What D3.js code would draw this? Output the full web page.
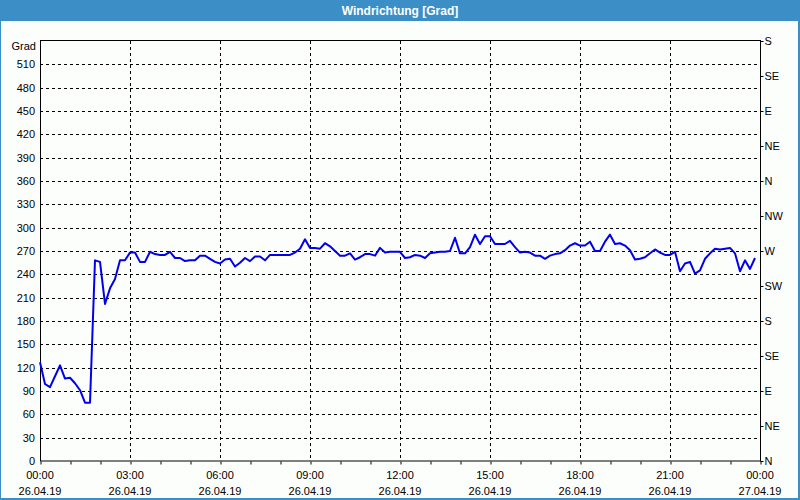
<!DOCTYPE html>
<html><head><meta charset="utf-8">
<script src="https://cdn.jsdelivr.net/npm/d3@7"></script>
<style>
html,body{margin:0;padding:0;background:#fff;}
svg text{font-family:"Liberation Sans",Arial,sans-serif;}
</style></head>
<body>
<svg id="c" width="800" height="500"></svg>
<script>
// Wind direction in degrees, every 10 minutes from 26.04.19 00:00
const values = [127,99,95,109,123,106,107,100,91,75,
75,258,256,202,222,234,258,258,268,268,
256,256,269,266,265,265,269,261,261,257,
258,258,264,264,260,256,254,259,260,250,
255,261,257,263,263,258,265,265,265,265,
265,268,273,285,274,274,273,280,276,270,
264,264,267,259,262,266,266,264,274,268,
269,269,269,261,262,265,264,261,267,268,
269,269,270,287,267,267,275,291,279,289,
289,279,279,279,283,275,268,269,268,264,
264,260,264,266,267,271,277,280,277,277,
282,270,270,282,291,279,280,277,271,259,
260,262,267,272,268,265,265,269,244,254,
256,241,245,260,267,273,272,273,274,267,
244,258,247,261];
const yTicks = [0,30,60,90,120,150,180,210,240,270,300,330,360,390,420,450,480,510];
const compassTicks = [0,45,90,135,180,225,270,315,360,405,450,495,540];
const compassLabels = ["N","NE","E","SE","S","SW","W","NW","N","NE","E","SE","S"];
const timeLabels = ["00:00","03:00","06:00","09:00","12:00","15:00","18:00","21:00","00:00"];
const dateLabels = ["26.04.19","26.04.19","26.04.19","26.04.19","26.04.19","26.04.19","26.04.19","26.04.19","27.04.19"];
const title = "Windrichtung [Grad]";
const unit = "Grad";

const svg = d3.select("#c");
const W = 800, H = 500;
const L = 40, R = 760, T = 41, B = 461;

svg.append("rect").attr("x",0).attr("y",0).attr("width",W).attr("height",H).attr("fill","#3c8fc6");
svg.append("rect").attr("x",1).attr("y",21).attr("width",W-3).attr("height",H-23).attr("fill","#fcfefc");
svg.append("text").attr("x",W/2).attr("y",14.5).attr("text-anchor","middle")
  .attr("fill","#fff").attr("font-weight","bold").attr("font-size","12px").text(title);

const x = d3.scaleLinear().domain([0,24]).range([L,R]);
const y = d3.scaleLinear().domain([0,540]).range([B,T]);
const t = i => i/6;

// horizontal grid
svg.append("g").selectAll("line").data(yTicks.filter(v=>v>0)).join("line")
  .attr("x1",L).attr("x2",R).attr("y1",d=>Math.round(y(d))+0.5).attr("y2",d=>Math.round(y(d))+0.5)
  .attr("stroke","#000").attr("stroke-dasharray","3,3");
// vertical grid
svg.append("g").selectAll("line").data(d3.range(3,24,3)).join("line")
  .attr("x1",d=>Math.round(x(d))+0.5).attr("x2",d=>Math.round(x(d))+0.5).attr("y1",T).attr("y2",B)
  .attr("stroke","#000").attr("stroke-dasharray","3,3");

// frame
svg.append("rect").attr("x",L+0.5).attr("y",T-0.5).attr("width",R-L).attr("height",B-T+0.5)
  .attr("fill","none").attr("stroke","#000");

// left axis
const yAxis = d3.axisLeft(y).tickValues(yTicks).tickSize(0).tickPadding(5);
const gl = svg.append("g").attr("transform",`translate(${L},0)`).call(yAxis);
gl.select(".domain").remove();
gl.selectAll("text").attr("font-size","11px").attr("fill","#000").attr("font-family","Liberation Sans, Arial, sans-serif");
svg.append("text").attr("x",36).attr("y",50).attr("text-anchor","end").attr("font-size","11px").text(unit);

// right axis
const yR = d3.scaleLinear().domain([0,540]).range([B,T]);
const rAxis = d3.axisRight(yR).tickValues(compassTicks).tickSize(3).tickPadding(1)
  .tickFormat((d,i)=>compassLabels[i]);
const gr = svg.append("g").attr("transform",`translate(${R+0.5},0)`).call(rAxis);
gr.select(".domain").remove();
gr.selectAll("text").attr("font-size","11px").attr("fill","#000").attr("font-family","Liberation Sans, Arial, sans-serif");

// bottom axis ticks
const xAxis = d3.axisBottom(x).tickValues(d3.range(0,25,1)).tickSize(3).tickFormat("");
const gb = svg.append("g").attr("transform",`translate(0.5,${B+0.5})`).call(xAxis);
gb.select(".domain").remove();
const lbl = svg.append("g");
lbl.selectAll("text.tm").data(timeLabels).join("text").attr("class","tm")
  .attr("x",(d,i)=>x(i*3)).attr("y",479).attr("text-anchor","middle").attr("font-size","11px").text(d=>d);
lbl.selectAll("text.dt").data(dateLabels).join("text").attr("class","dt")
  .attr("x",(d,i)=>x(i*3)).attr("y",495).attr("text-anchor","middle").attr("font-size","11px").text(d=>d);

// line
const line = d3.line().x((d,i)=>x(t(i))).y(d=>y(d));
svg.append("path").datum(values).attr("d",line).attr("fill","none")
  .attr("stroke","#0000ee").attr("stroke-width",2).attr("stroke-linejoin","round");
</script>
</body></html>
